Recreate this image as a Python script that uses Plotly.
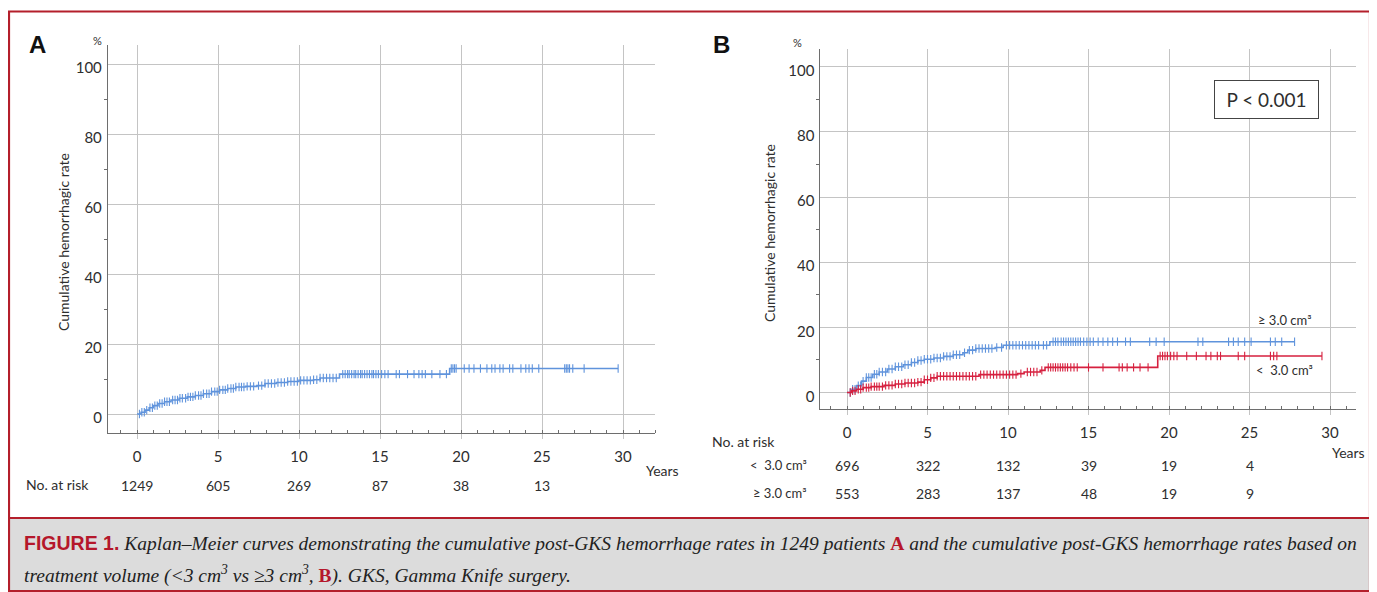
import numpy as np
import plotly.graph_objects as go

# ---------------- data ----------------
# Panel A: all patients (step times in years, cumulative hemorrhagic rate %)
A_time = [0, 0.25, 0.5, 0.75, 1.0, 1.3, 1.7, 2.1, 2.6, 3.1, 3.6, 4.1, 4.6, 5.1, 5.6, 6.1,
          6.7, 7.4, 7.9, 8.6, 9.3, 10.0, 10.9, 11.3, 12.5, 19.3]
A_rate = [0, 0.5, 1.1, 1.8, 2.4, 3.0, 3.5, 4.0, 4.5, 4.9, 5.3, 5.8, 6.4, 6.9, 7.3, 7.7,
          7.9, 8.1, 8.7, 9.0, 9.3, 9.6, 9.8, 10.3, 11.4, 13.0]
A_end = 29.7
A_cens = [0.15, 0.3, 0.45, 0.6, 0.8, 0.95, 1.1, 1.25, 1.4, 1.55, 1.7, 1.85, 2.0, 2.2, 2.35,
          2.5, 2.65, 2.8, 3.0, 3.15, 3.3, 3.45, 3.6, 3.8, 3.95, 4.1, 4.3, 4.45, 4.6, 4.8,
          4.95, 5.1, 5.3, 5.45, 5.6, 5.8, 5.95, 6.1, 6.3, 6.45, 6.6, 6.8, 7.0, 7.2, 7.5,
          7.7, 7.9, 8.1, 8.3, 8.5, 8.7, 8.9, 9.1, 9.3, 9.5, 9.7, 9.9, 10.1, 10.3, 10.5,
          10.7, 10.9, 11.1, 11.3, 11.5, 11.7, 11.9, 12.1, 12.3, 12.7, 12.85, 13.0, 13.1,
          13.25, 13.4, 13.5, 13.65, 13.8, 13.9, 14.05, 14.2, 14.35, 14.5, 14.6, 14.75,
          14.9, 15.1, 15.3, 15.5, 16.0, 16.2, 16.7, 17.1, 17.4, 17.6, 17.8, 18.2, 18.7,
          19.1, 19.4, 19.5, 19.6, 19.7, 20.2, 20.5, 20.8, 21.2, 21.6, 21.9, 22.1, 22.4,
          22.6, 23.0, 23.2, 23.7, 24.0, 24.2, 24.4, 24.8, 26.4, 26.5, 26.6, 26.7, 26.9,
          27.6, 29.7]

# Panel B: >= 3.0 cm3 (blue)
Bge_time = [0, 0.3, 0.6, 0.9, 1.2, 1.6, 2.0, 2.5, 3.0, 3.5, 4.0, 4.4, 4.8, 5.4, 6.0, 6.6,
            7.2, 7.5, 8.0, 9.2, 9.7, 12.6]
Bge_rate = [0, 1.0, 2.1, 3.5, 4.6, 5.6, 6.3, 7.2, 7.9, 8.5, 9.2, 9.8, 10.2, 10.6, 11.1,
            11.6, 12.2, 13.0, 13.5, 13.8, 14.5, 15.6]
Bge_end = 27.8
Bge_cens = [0.2, 0.35, 0.5, 0.7, 0.85, 1.0, 1.2, 1.35, 1.5, 1.7, 1.85, 2.0, 2.2, 2.4, 2.6,
            2.8, 3.0, 3.2, 3.4, 3.6, 3.8, 4.0, 4.2, 4.4, 4.6, 4.8, 5.0, 5.2, 5.4, 5.6, 5.8,
            6.0, 6.2, 6.4, 6.6, 6.8, 7.0, 7.3, 7.6, 7.8, 8.0, 8.2, 8.4, 8.6, 8.8, 9.0, 9.3,
            9.6, 9.9, 10.1, 10.3, 10.5, 10.7, 10.9, 11.1, 11.3, 11.5, 11.7, 11.9, 12.2,
            12.4, 12.8, 12.95, 13.1, 13.3, 13.45, 13.6, 13.75, 13.9, 14.05, 14.2, 14.35,
            14.5, 14.7, 14.9, 15.1, 15.3, 15.6, 15.9, 16.2, 16.5, 16.8, 17.3, 17.6, 18.8,
            19.2, 19.7, 21.8, 22.1, 23.7, 24.0, 24.3, 24.7, 25.1, 26.3, 26.6, 27.0, 27.8]

# Panel B: < 3.0 cm3 (red)
Blt_time = [0, 0.3, 0.6, 1.0, 1.5, 2.3, 3.0, 3.6, 4.4, 4.8, 5.2, 5.6, 8.2, 10.6, 11.0,
            12.0, 12.3, 19.3]
Blt_rate = [0, 0.5, 1.0, 1.5, 1.8, 2.2, 2.6, 2.9, 3.2, 3.9, 4.5, 5.0, 5.5, 5.8, 6.3, 6.8,
            7.7, 11.2]
Blt_end = 29.5
Blt_cens = [0.2, 0.35, 0.5, 0.7, 0.85, 1.0, 1.2, 1.35, 1.5, 1.7, 1.85, 2.0, 2.2, 2.4, 2.6,
            2.8, 3.0, 3.2, 3.4, 3.6, 3.8, 4.0, 4.2, 4.4, 4.6, 4.8, 5.0, 5.2, 5.4, 5.6, 5.8,
            6.0, 6.2, 6.4, 6.6, 6.8, 7.0, 7.2, 7.4, 7.6, 7.8, 8.0, 8.3, 8.5, 8.7, 8.9, 9.1,
            9.3, 9.5, 9.7, 9.9, 10.1, 10.3, 10.5, 10.8, 11.2, 11.4, 11.6, 11.8, 12.1, 12.5,
            12.65, 12.8, 12.95, 13.1, 13.25, 13.4, 13.55, 13.7, 13.9, 14.1, 14.3, 15.0,
            15.9, 16.9, 17.1, 17.4, 17.8, 18.2, 18.7, 19.45, 19.6, 19.75, 19.9, 20.1, 20.3,
            20.5, 21.1, 21.7, 22.3, 22.6, 23.0, 23.2, 24.3, 24.7, 26.3, 26.5, 26.7, 29.5]

year_ticks = [0, 5, 10, 15, 20, 25, 30]
y_ticks = [0, 20, 40, 60, 80, 100]
y_minor = [10, 30, 50, 70, 90]
risk_years = [0, 5, 10, 15, 20, 25]
A_risk = [1249, 605, 269, 87, 38, 13]
Blt_risk = [696, 322, 132, 39, 19, 4]
Bge_risk = [553, 283, 137, 48, 19, 9]

# ---------------- style ----------------
PAGE_W, PAGE_H = 1377, 592
OFF = 8  # default body margin of the html page
W, H = PAGE_W - OFF, PAGE_H - OFF
BLUE = "#5f93dc"
RED = "#d6203f"
GRID = "#c4c4c4"
AXL = "#6e6e6e"
TXT = "#2e2e2e"
FRAME_RED = "#b41f2b"
FONT = "Lato"


def px_x(p):
    return (p - OFF) / W


def px_y(p):
    return 1 - (p - OFF) / H


def step_value(times, rates, t):
    idx = np.searchsorted(np.asarray(times), np.asarray(t), side="right") - 1
    return np.asarray(rates)[idx]


def km_traces(times, rates, end, cens, color, xa, ya):
    xs = list(times) + [end]
    ys = list(rates) + [rates[-1]]
    line = go.Scatter(x=xs, y=ys, mode="lines", line=dict(color=color, width=1.6, shape="hv"),
                      xaxis=xa, yaxis=ya, showlegend=False, hoverinfo="skip")
    cy = step_value(times, rates, cens)
    marks = go.Scatter(x=cens, y=cy, mode="markers",
                       marker=dict(symbol="line-ns", size=6,
                                   line=dict(color=color, width=1.1)),
                       xaxis=xa, yaxis=ya, showlegend=False, hoverinfo="skip")
    return [line, marks]


fig = go.Figure()
for tr in km_traces(A_time, A_rate, A_end, A_cens, BLUE, "x", "y"):
    fig.add_trace(tr)
for tr in km_traces(Bge_time, Bge_rate, Bge_end, Bge_cens, BLUE, "x2", "y2"):
    fig.add_trace(tr)
for tr in km_traces(Blt_time, Blt_rate, Blt_end, Blt_cens, RED, "x2", "y2"):
    fig.add_trace(tr)

# axis geometry (page pixels)
# A: x 0 -> 137 px, 16.2 px/yr ; y 0 -> 414 px, 3.5 px/%
A_xr = [-1.8, 32.0]
A_yr = [-5.3, 105.5]
A_xd = [px_x(137 + 16.2 * A_xr[0]), px_x(137 + 16.2 * A_xr[1])]
A_yd = [px_y(414 - 3.5 * A_yr[0]), px_y(414 - 3.5 * A_yr[1])]
# B: x 0 -> 847 px, 16.1 px/yr ; y 0 -> 392.5 px, 3.258 px/%
B_xr = [-1.65, 31.6]
B_yr = [-5.1, 105.4]
B_xd = [px_x(847 + 16.1 * B_xr[0]), px_x(847 + 16.1 * B_xr[1])]
B_yd = [px_y(392.5 - 3.258 * B_yr[0]), px_y(392.5 - 3.258 * B_yr[1])]

tickfont = dict(family=FONT, size=15, color=TXT)


def xaxis_cfg(dom, rng, anchor):
    return dict(domain=dom, range=rng, anchor=anchor, tickvals=year_ticks,
                showgrid=True, gridcolor=GRID, gridwidth=1, zeroline=False,
                showline=True, linecolor=AXL, linewidth=1,
                ticks="outside", ticklen=5, tickcolor=GRID,
                minor=dict(dtick=1, tick0=0, ticks="inside", ticklen=3, tickcolor=AXL,
                           showgrid=False),
                tickfont=tickfont, ticklabelstandoff=5, fixedrange=True)


def yaxis_cfg(dom, rng, anchor):
    return dict(domain=dom, range=rng, anchor=anchor, tickvals=y_ticks,
                showgrid=True, gridcolor=GRID, gridwidth=1, zeroline=False,
                showline=True, linecolor=AXL, linewidth=1, ticks="",
                minor=dict(tickvals=y_minor, ticks="outside", ticklen=3, tickcolor=AXL,
                           showgrid=False),
                tickfont=tickfont, ticklabelshift=4, ticklabelstandoff=2, fixedrange=True)


fig.update_layout(
    width=W, height=H,
    margin=dict(l=0, r=0, t=0, b=0),
    paper_bgcolor="white", plot_bgcolor="rgba(0,0,0,0)",
    xaxis=xaxis_cfg(A_xd, A_xr, "y"),
    yaxis=yaxis_cfg(A_yd, A_yr, "x"),
    xaxis2=xaxis_cfg(B_xd, B_xr, "y2"),
    yaxis2=yaxis_cfg(B_yd, B_yr, "x2"),
    font=dict(family=FONT, color=TXT),
)

shapes = [
    # caption background
    dict(type="rect", xref="paper", yref="paper", x0=px_x(9), x1=px_x(1370),
         y0=px_y(592), y1=px_y(518), fillcolor="#dcdcdc", line=dict(width=0), layer="below"),
    # outer red frame
    dict(type="rect", xref="paper", yref="paper", x0=px_x(9), x1=px_x(1370),
         y0=px_y(591), y1=px_y(11.5), line=dict(color=FRAME_RED, width=2.2),
         fillcolor="rgba(0,0,0,0)"),
    dict(type="line", xref="paper", yref="paper", x0=px_x(9), x1=px_x(1370),
         y0=px_y(518), y1=px_y(518), line=dict(color=FRAME_RED, width=2.2)),
]

ann = []


def add_text(text, x, y, size=13, xref="paper", yref="paper", xanchor="center",
             yanchor="middle", family=FONT, color=TXT, angle=0, **kw):
    ann.append(dict(text=text, x=x, y=y, xref=xref, yref=yref, xanchor=xanchor,
                    yanchor=yanchor, showarrow=False, textangle=angle,
                    font=dict(family=family, size=size, color=color), **kw))


# panel letters
add_text("<b>A</b>", px_x(37), px_y(45), size=24, family="Liberation Sans", color="#111")
add_text("<b>B</b>", px_x(721), px_y(45), size=24, family="Liberation Sans", color="#111")
# % labels
add_text("%", px_x(97), px_y(41), size=11)
add_text("%", px_x(797), px_y(42), size=11)
# y-axis titles
add_text("Cumulative hemorrhagic rate", px_x(64), px_y(242), size=14, angle=-90)
add_text("Cumulative hemorrhagic rate", px_x(770), px_y(233), size=14, angle=-90)
# Years
add_text("Years", px_x(662), px_y(470), size=14)
add_text("Years", px_x(1348), px_y(452), size=14)

# risk tables
add_text("No. at risk", px_x(58), px_y(484), size=14)
for t, n in zip(risk_years, A_risk):
    add_text(str(n), t, px_y(485), size=14, xref="x")

add_text("No. at risk", px_x(743), px_y(441), size=14)
add_text("<  3.0 cm³", px_x(809), px_y(465), size=13, xanchor="right")
add_text("≥ 3.0 cm³", px_x(809), px_y(493), size=13, xanchor="right")
for t, n in zip(risk_years, Blt_risk):
    add_text(str(n), t, px_y(465), size=14, xref="x2")
for t, n in zip(risk_years, Bge_risk):
    add_text(str(n), t, px_y(493), size=14, xref="x2")

# curve labels
add_text("≥ 3.0 cm³", 27.2, 22.3, size=13, xref="x2", yref="y2")
add_text("<  3.0 cm³", 27.2, 6.9, size=13, xref="x2", yref="y2")

# P-value box
add_text("P < 0.001", 26.06, 89.9, size=19, xref="x2", yref="y2",
         bordercolor="#444", borderwidth=1, borderpad=2, bgcolor="white",
         width=99, height=33)

# caption
CRED = "#b5172b"
cap1 = ("<span style='font-family:Liberation Sans;font-style:normal;color:" + CRED + "'><b>FIGURE 1.</b></span>"
        " <i>Kaplan–Meier curves demonstrating the cumulative post-GKS hemorrhage rates in 1249 patients </i>"
        "<span style='color:" + CRED + "'><b>A</b></span>"
        "<i> and the cumulative post-GKS hemorrhage rates based on</i>")
cap2 = ("<i>treatment volume (&lt;3 cm<sup>3</sup> vs ≥3 cm<sup>3</sup>, </i>"
        "<span style='color:" + CRED + "'><b>B</b></span>"
        "<i>). GKS, Gamma Knife surgery.</i>")
add_text(cap1, px_x(22), px_y(543), size=19.5, xanchor="left", family="Liberation Serif",
         color="#222")
add_text(cap2, px_x(22), px_y(574), size=19.5, xanchor="left", family="Liberation Serif",
         color="#222")

fig.update_layout(shapes=shapes, annotations=ann)
fig.write_html("out.html")
